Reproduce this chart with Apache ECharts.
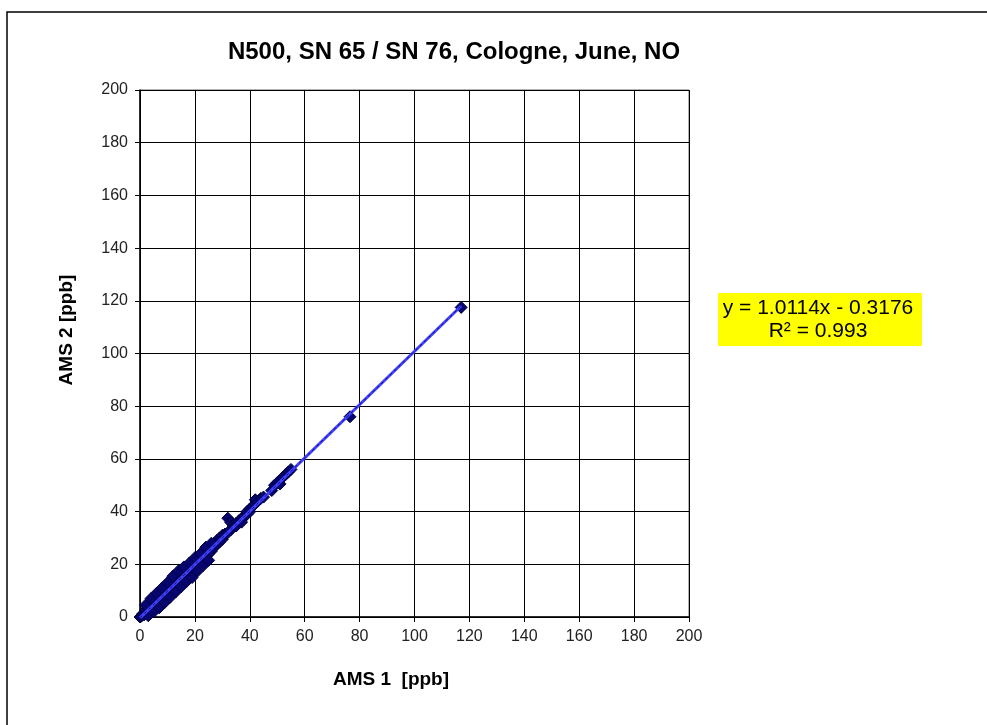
<!DOCTYPE html>
<html>
<head>
<meta charset="utf-8">
<script src="https://cdn.jsdelivr.net/npm/echarts@6/dist/echarts.min.js"></script>
<style>
html,body{margin:0;padding:0;background:#fff;}
#chart{width:987px;height:725px;}
</style>
</head>
<body>
<div id="chart"></div>
<script>
// ---- data ----
var titleText = 'N500, SN 65 / SN 76, Cologne, June, NO';
var xName = 'AMS 1  [ppb]';
var yName = 'AMS 2 [ppb]';
var axisMin = 0, axisMax = 200, axisStep = 20;
var trendSlope = 1.0114;
var trendIntercept = -0.3176;
var trendRange = [0, 117];
var eqLines = ['y = 1.0114x - 0.3176', 'R\u00b2 = 0.993'];
var ams1 = [0,0.5,1,1.5,2,2.5,3,3,3.5,4,4,4.5,5,5,5.5,6,6,6.5,7,7,7.5,8,8,8.5,9,9,9.5,10,10,10.5,11,11,11.5,12,12,12.5,13,13,13.5,14,14,14.5,15,15,15.5,16,16,16.5,17,17,18,18,18.5,19,19,20,20,20.5,21,21,22,22,23,23,24,24,25,25,26,26,27,27,28,28,29,29,30,30,31,32,32,33,33,34,34,35,35,36,37,37,38,39,39,40,40,41,42,42,43,44,45,48,49,50,51,52,53,54,55,76.5,117,
  2,4,6,8,10,12,14,16,18,20,22,24,26,3,5,7,9,11,13,15,17,19,21,23,25];
var ams2 = [0,0.3,1.2,0.8,2.5,1.5,3.8,2,3,5,3,4,6.5,4,5,7.5,5,6,8.5,6,7,9.5,7,8,10.5,8,9,11.5,9,10,12.5,10,11,13.5,11,12.5,14.5,12,13,15.5,13,14,16.5,14,15.5,17,15,16,18,16,19.5,17,18,20,18,21,19,20,21.5,20,22.5,21,23.5,22,25,23,26,24,27,25,28,26.5,29,27.5,30,28.5,31,29.5,31.5,37.5,32,36,33,34.5,35,35.5,34.5,36.5,37,36,38.5,39,40,41,40,42,43,44.5,44,45,45.5,48,50,51,50.5,53,54,55,56,76,117.5,
  4.5,7,9,11,13,15.5,17.5,19,20.5,22.5,24,26.5,28,0.5,2,3.5,5.5,7.5,9.5,11.5,13.5,15,17.5,19.5,21.5];

var points = ams1.map(function(v,i){return [v, ams2[i]];});
var trendPts = trendRange.map(function(x){return [x, trendSlope*x + trendIntercept];});

var chart = echarts.init(document.getElementById('chart'));
var font = 'Liberation Sans, Arial, sans-serif';
var axisCommon = {
  type:'value', min:axisMin, max:axisMax, interval:axisStep,
  axisLine:{show:true, onZero:false, lineStyle:{color:'#000', width:1.5}},
  axisTick:{show:true, inside:false, length:5, lineStyle:{color:'#000'}},
  splitLine:{show:true, lineStyle:{color:'#000', width:1}},
  axisLabel:{fontSize:16, color:'#222', fontFamily:font}
};
chart.setOption({
  backgroundColor:'#fff',
  animation:false,
  grid:{left:140, top:90, width:549, height:527, show:true, borderColor:'#666', borderWidth:1},
  xAxis: Object.assign({}, axisCommon, {axisLabel:Object.assign({}, axisCommon.axisLabel, {margin:12})}),
  yAxis: Object.assign({}, axisCommon, {axisLabel:Object.assign({}, axisCommon.axisLabel, {margin:12})}),
  series:[
    {type:'scatter', data:points, symbol:'diamond', symbolSize:12,
     itemStyle:{color:'#06066e', borderColor:'#000040', borderWidth:1, opacity:1}, z:3},
    {type:'line', data:trendPts, symbol:'none', lineStyle:{color:'#4040ff', width:3}, z:4},
    {type:'line', data:trendPts, symbol:'none', lineStyle:{color:'#10107a', width:1, type:[3,3]}, z:5}
  ],
  graphic:[
    {type:'rect', shape:{x:7, y:12, width:1000, height:750}, style:{fill:'none', stroke:'#000', lineWidth:1.5}, silent:true},
    {type:'text', style:{text:titleText, x:454, y:52, fill:'#000', font:'bold 24px '+font, textAlign:'center', textVerticalAlign:'middle'}},
    {type:'text', style:{text:xName, x:391, y:680, fill:'#000', font:'bold 19px '+font, textAlign:'center', textVerticalAlign:'middle'}},
    {type:'text', rotation:Math.PI/2, x:67, y:330, style:{text:yName, x:0, y:0, fill:'#000', font:'bold 19px '+font, textAlign:'center', textVerticalAlign:'middle'}},
    {type:'rect', shape:{x:718, y:293, width:204, height:53}, style:{fill:'#ffff00', stroke:'none'}},
    {type:'text', style:{text:eqLines[0], x:818, y:308, fill:'#000', font:'21px '+font, textAlign:'center', textVerticalAlign:'middle'}},
    {type:'text', style:{text:eqLines[1], x:818, y:331, fill:'#000', font:'21px '+font, textAlign:'center', textVerticalAlign:'middle'}}
  ]
});
</script>
</body>
</html>
